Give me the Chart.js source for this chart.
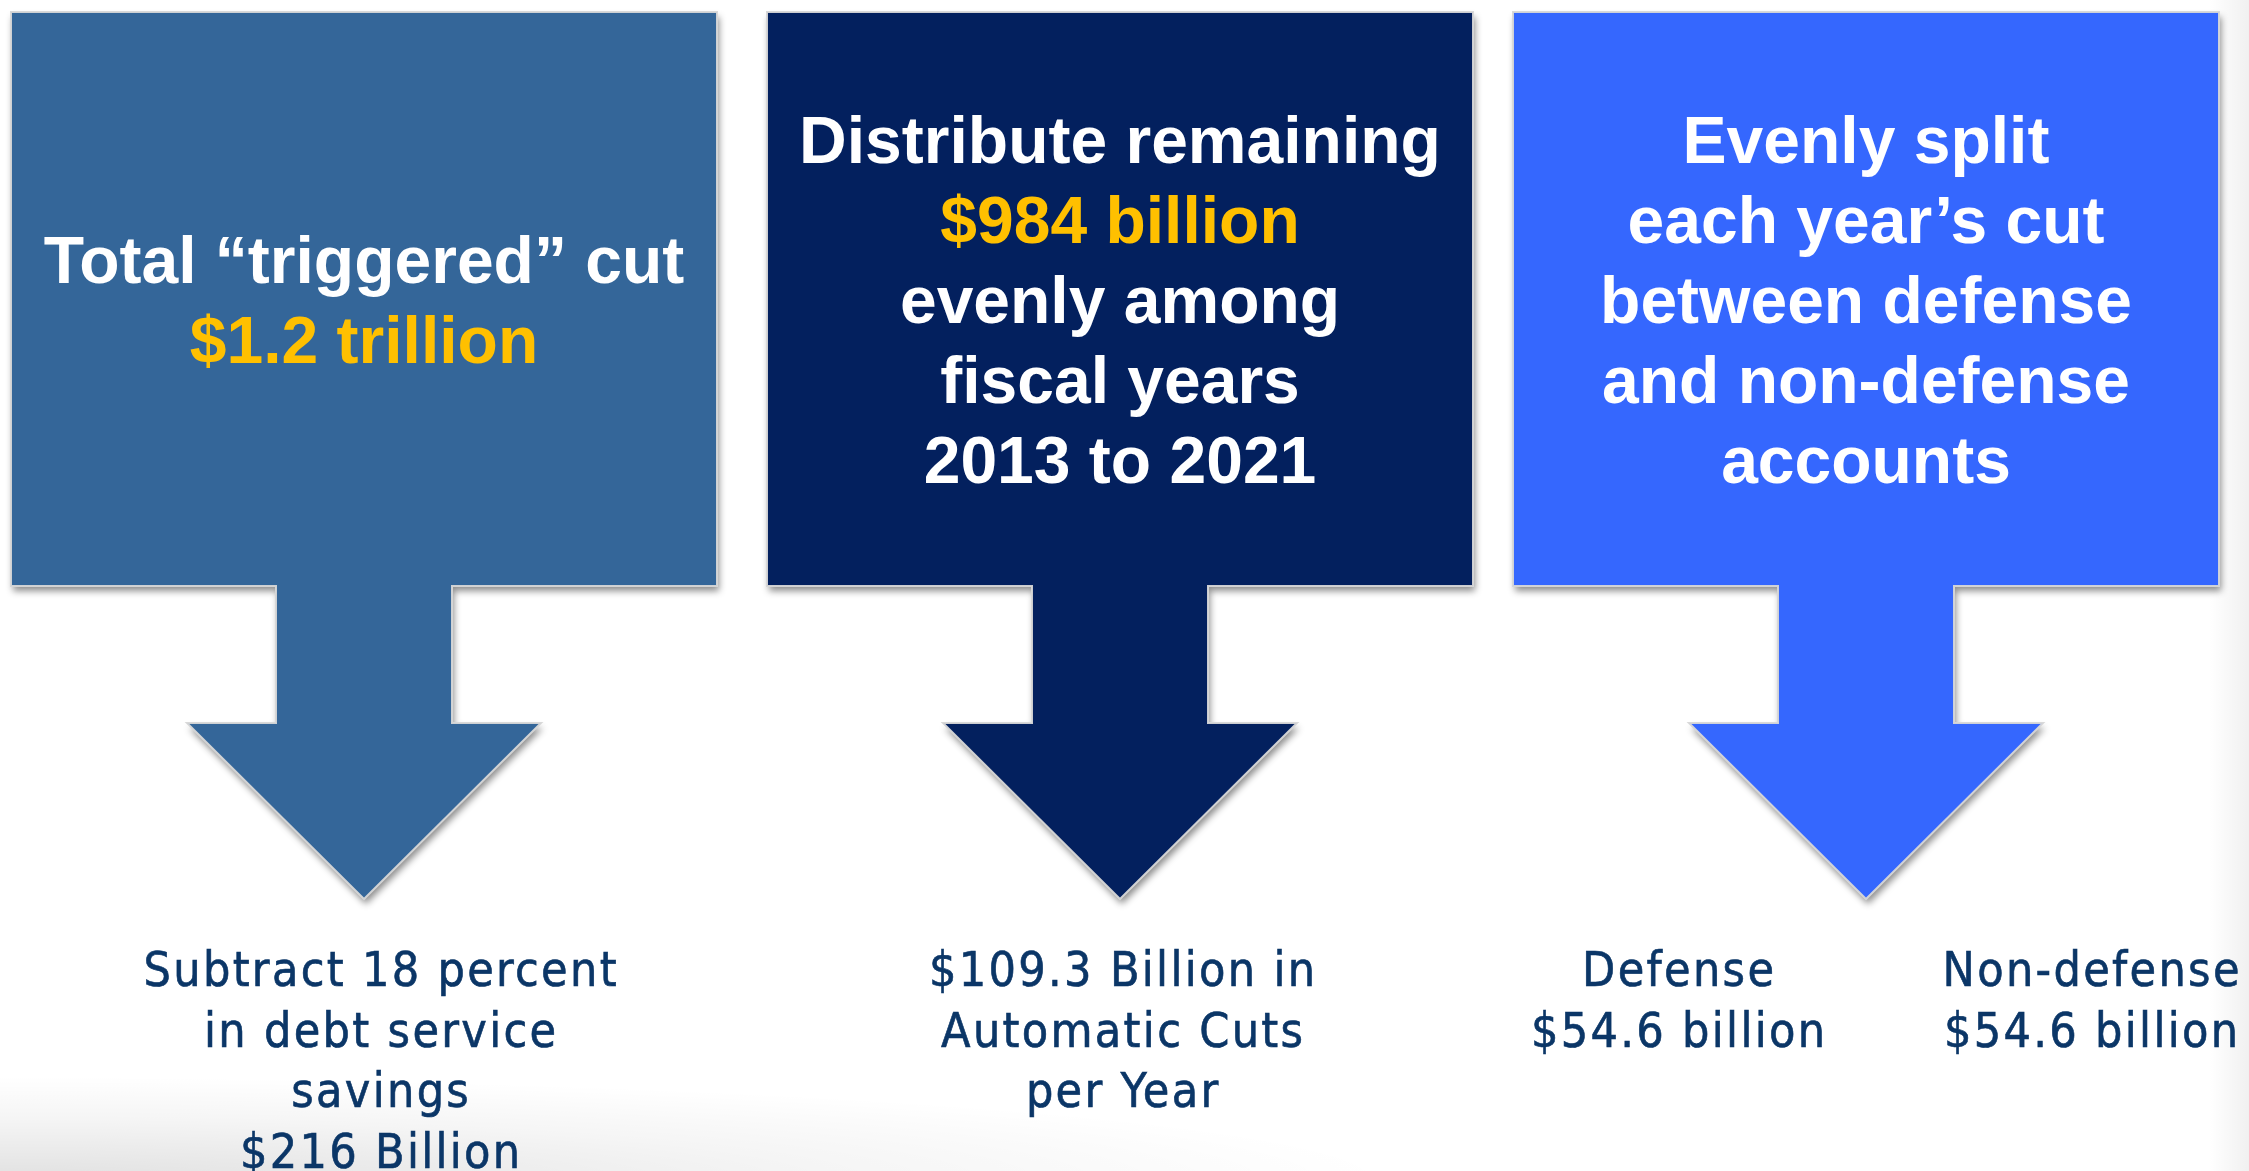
<!DOCTYPE html>
<html>
<head>
<meta charset="utf-8">
<script src="https://cdn.jsdelivr.net/npm/chart.js@4.4.1/dist/chart.umd.min.js"></script>
<style>
  html, body { margin: 0; padding: 0; background: #fff; overflow: hidden; }
  #wrap { position: relative; width: 2249px; height: 1171px; }
</style>
</head>
<body>
<div id="wrap"><canvas id="flow"></canvas></div>
<script>
// sequestration figures (billions unless noted)
const totalCut = 1.2;               // trillion
const remaining = 984;
const debtSharePct = 18;
const debtService = 216;
const perYear = 109.3;
const splitLabels = ["Defense", "Non-defense"];
const splitValues = [54.6, 54.6];
const fiscalYears = [2013, 2021];

// box headings: plain lines plus one highlighted amount line
const stepTitles = [
  ["Total \u201Ctriggered\u201D cut", "$" + totalCut + " trillion"],
  ["Distribute remaining", "$" + remaining + " billion", "evenly among", "fiscal years", fiscalYears[0] + " to " + fiscalYears[1]],
  ["Evenly split", "each year\u2019s cut", "between defense", "and non-defense", "accounts"]
];
const highlightLine = [1, 1, -1];

// results under each arrow
const stepResults = [
  [["Subtract " + debtSharePct + " percent", "in debt service", "savings", "$" + debtService + " Billion"]],
  [["$" + perYear + " Billion in", "Automatic Cuts", "per Year"]],
  [[splitLabels[0], "$" + splitValues[0] + " billion"], [splitLabels[1], "$" + splitValues[1] + " billion"]]
];

const boxColors = ["#346699", "#03205e", "#3567fe"];

// geometry in axis units (axes span the full canvas)
const boxLeft = [11, 767, 1513];
const boxWidth = 706;
const boxTop = 12, boxBottom = 586;
const shaftHalf = 88, headHalf = 177;
const shaftEnd = 723, tipY = 899;
const resultCenters = [[380], [1122], [1678, 2091]];

const flowPlugin = {
  id: "flowArrows",
  beforeDraw(chart) {
    const { ctx, width, height } = chart;
    ctx.save();
    ctx.fillStyle = "#fff";
    ctx.fillRect(0, 0, width, height);
    // soft grey fade along the bottom left and the right edge
    ctx.save();
    ctx.translate(0, height + 10);
    ctx.scale(1, 0.075);
    let g = ctx.createRadialGradient(0, 0, 0, 0, 0, 1400);
    g.addColorStop(0, "rgba(0,0,0,0.12)");
    g.addColorStop(0.6, "rgba(0,0,0,0.04)");
    g.addColorStop(1, "rgba(0,0,0,0)");
    ctx.fillStyle = g;
    ctx.fillRect(0, -1400, 1400, 1400);
    ctx.restore();
    g = ctx.createLinearGradient(width - 40, 0, width, 0);
    g.addColorStop(0, "rgba(0,0,0,0)");
    g.addColorStop(1, "rgba(0,0,0,0.06)");
    ctx.fillStyle = g;
    ctx.fillRect(width - 40, 0, 40, height);
    ctx.restore();
  },
  afterDraw(chart) {
    const { ctx, scales: { x, y } } = chart;
    const px = v => x.getPixelForValue(v);
    const py = v => y.getPixelForValue(v);

    stepTitles.forEach((lines, i) => {
      const l = boxLeft[i], r = l + boxWidth, c = l + boxWidth / 2;
      ctx.save();
      ctx.beginPath();
      ctx.moveTo(px(l), py(boxTop));
      ctx.lineTo(px(r), py(boxTop));
      ctx.lineTo(px(r), py(boxBottom));
      ctx.lineTo(px(c + shaftHalf), py(boxBottom));
      ctx.lineTo(px(c + shaftHalf), py(shaftEnd));
      ctx.lineTo(px(c + headHalf), py(shaftEnd));
      ctx.lineTo(px(c), py(tipY));
      ctx.lineTo(px(c - headHalf), py(shaftEnd));
      ctx.lineTo(px(c - shaftHalf), py(shaftEnd));
      ctx.lineTo(px(c - shaftHalf), py(boxBottom));
      ctx.lineTo(px(l), py(boxBottom));
      ctx.closePath();
      ctx.shadowColor = "rgba(0,0,0,0.45)";
      ctx.shadowBlur = 7;
      ctx.shadowOffsetX = 2;
      ctx.shadowOffsetY = 5;
      ctx.fillStyle = boxColors[i];
      ctx.fill();
      ctx.shadowColor = "transparent";
      ctx.lineWidth = 2;
      ctx.strokeStyle = "rgba(215,215,215,0.95)";
      ctx.stroke();
      ctx.restore();

      // heading text, centred on the box
      ctx.save();
      ctx.font = 'bold 66px "Liberation Sans", Arial, sans-serif';
      ctx.textAlign = "center";
      ctx.textBaseline = "alphabetic";
      const mid = 323, step = 80;
      lines.forEach((t, k) => {
        ctx.fillStyle = k === highlightLine[i] ? "#ffc000" : "#ffffff";
        ctx.fillText(t, px(c), py(mid + (k - (lines.length - 1) / 2) * step));
      });
      ctx.restore();

      // result text under the arrow, slightly tracked out
      ctx.save();
      ctx.font = '48px "DejaVu Sans Condensed", "DejaVu Sans", sans-serif';
      ctx.letterSpacing = "2.3px";
      ctx.fillStyle = "#0b3667";
      ctx.strokeStyle = "#0b3667";
      ctx.lineWidth = 0.6;
      ctx.textAlign = "center";
      stepResults[i].forEach((col, j) => {
        col.forEach((t, k) => {
          const tx = px(resultCenters[i][j]) + 1.2, ty = py(986 + k * 60.5);
          ctx.fillText(t, tx, ty);
          ctx.strokeText(t, tx, ty);
        });
      });
      ctx.restore();
    });
  }
};

new Chart(document.getElementById("flow"), {
  type: "scatter",
  data: { datasets: [] },
  options: {
    responsive: true,
    maintainAspectRatio: false,
    animation: false,
    layout: { padding: 0 },
    plugins: { legend: { display: false }, tooltip: { enabled: false } },
    scales: {
      x: { type: "linear", min: 0, max: 2249, display: false },
      y: { type: "linear", min: 0, max: 1171, reverse: true, display: false }
    }
  },
  plugins: [flowPlugin]
});
</script>
</body>
</html>
